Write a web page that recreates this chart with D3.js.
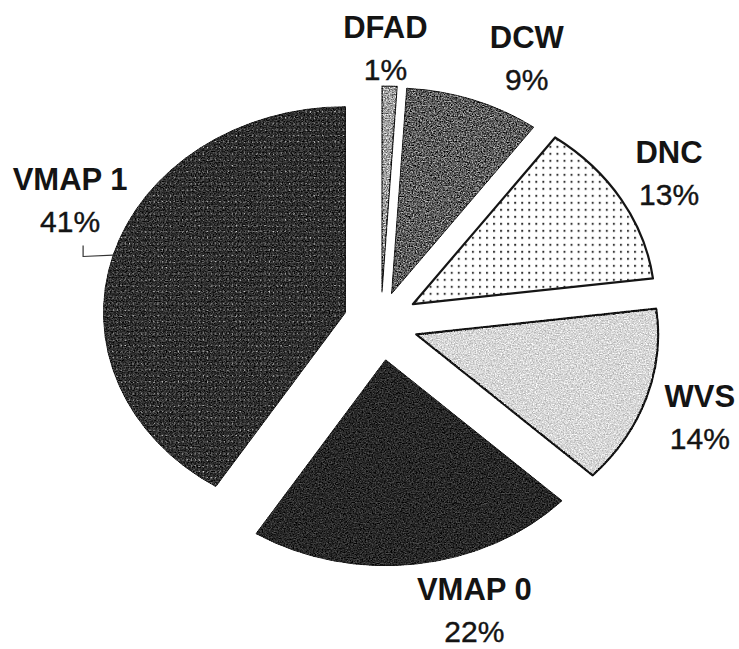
<!DOCTYPE html>
<html>
<head>
<meta charset="utf-8">
<script src="https://cdn.jsdelivr.net/npm/d3@7"></script>
<style>
html, body { margin: 0; background: #fff; }
svg { display: block; }
</style>
</head>
<body>
<svg></svg>
<script>
// data
const categories = ["DFAD", "DCW", "DNC", "WVS", "VMAP 0", "VMAP 1"]
const shares = [1, 9, 13, 14, 22, 41]
const pctLabels = ["1%", "9%", "13%", "14%", "22%", "41%"]

const width = 739, height = 649
const cx = 381, cy = 323
const rx = 242, ry = 206
// how far each slice is pulled out of the pie
const explode = {"DFAD": 31, "DCW": 31, "DNC": 37, "WVS": 37, "VMAP 0": 37, "VMAP 1": 37}
const fills = {"DFAD": "url(#pDfad)", "DCW": "url(#pDcw)", "DNC": "url(#pDnc)",
               "WVS": "url(#pWvs)", "VMAP 0": "url(#pVmap0)", "VMAP 1": "url(#pVmap1)"}
const strokes = {"DFAD": 1.2, "DCW": 1, "DNC": 2.2, "WVS": 2.2, "VMAP 0": 1, "VMAP 1": 1}
const grainy = {"DFAD": true, "DCW": true, "DNC": false, "WVS": true, "VMAP 0": true, "VMAP 1": true}
// label nudges from the default label ring
const labelNudge = {"DFAD": [-6, 10], "DCW": [34, 3], "DNC": [4, -5],
                    "WVS": [5, 6], "VMAP 0": [52, 4], "VMAP 1": [6, -43]}
const labelRx = 330, labelRy = 285

const data = categories.map((c, i) => ({name: c, value: shares[i], pct: pctLabels[i]}))

const svg = d3.select("svg")
    .attr("width", width)
    .attr("height", height)
    .style("font-family", "'Liberation Sans', Arial, sans-serif")

svg.append("rect").attr("width", width).attr("height", height).attr("fill", "#fff")

const defs = svg.append("defs")

// scanned-print grain
const grain = defs.append("filter")
    .attr("id", "grain")
    .attr("x", "-5%").attr("y", "-5%").attr("width", "110%").attr("height", "110%")
    .attr("color-interpolation-filters", "sRGB")
grain.append("feTurbulence")
    .attr("type", "fractalNoise").attr("baseFrequency", 0.8)
    .attr("numOctaves", 2).attr("seed", 4).attr("result", "noise")
grain.append("feColorMatrix")
    .attr("in", "noise").attr("type", "matrix")
    .attr("values", "0.33 0.33 0.33 0 0  0.33 0.33 0.33 0 0  0.33 0.33 0.33 0 0  0 0 0 0 1")
    .attr("result", "gray")
const ct = grain.append("feComponentTransfer").attr("in", "gray").attr("result", "contrast")
;["feFuncR", "feFuncG", "feFuncB"].forEach(f =>
    ct.append(f).attr("type", "linear").attr("slope", 3.2).attr("intercept", -1.1))
grain.append("feBlend")
    .attr("in", "contrast").attr("in2", "SourceGraphic").attr("mode", "overlay").attr("result", "mix")
grain.append("feComposite")
    .attr("in", "mix").attr("in2", "SourceGraphic").attr("operator", "in")

function solidPattern(id, color) {
    defs.append("pattern").attr("id", id)
        .attr("patternUnits", "userSpaceOnUse").attr("width", 8).attr("height", 8)
        .append("rect").attr("width", 8).attr("height", 8).attr("fill", color)
}
solidPattern("pDfad", "#a3a3a3")
solidPattern("pDcw", "#5f5f5f")
solidPattern("pWvs", "#d8d8d8")
solidPattern("pVmap0", "#292929")

const dnc = defs.append("pattern").attr("id", "pDnc")
    .attr("patternUnits", "userSpaceOnUse").attr("width", 6).attr("height", 7)
dnc.append("rect").attr("width", 6).attr("height", 7).attr("fill", "#fff")
dnc.append("rect").attr("x", 2.3).attr("y", 2.8).attr("width", 1.6).attr("height", 1.8).attr("fill", "#111")

const vm1 = defs.append("pattern").attr("id", "pVmap1")
    .attr("patternUnits", "userSpaceOnUse").attr("width", 3.5).attr("height", 6)
vm1.append("rect").attr("width", 3.5).attr("height", 6).attr("fill", "#2d2d2d")
vm1.append("rect").attr("x", 1).attr("y", 2.5).attr("width", 1.1).attr("height", 1.1).attr("fill", "#a0a0a0")

const pie = d3.pie().sort(null).value(d => d.value)
const arc = d3.arc().innerRadius(0).outerRadius(ry)
const arcs = pie(data)

const mid = d => (d.startAngle + d.endAngle) / 2
const apex = d => {
    const e = explode[d.data.name], a = mid(d)
    return [cx + e * Math.sin(a), cy - e * Math.cos(a)]
}

svg.selectAll("g.slice")
    .data(arcs)
    .join("g")
    .attr("class", "slice")
    .attr("transform", d => `translate(${apex(d)}) scale(${rx / ry}, 1)`)
    .append("path")
    .attr("d", arc)
    .attr("fill", d => fills[d.data.name])
    .attr("filter", d => grainy[d.data.name] ? "url(#grain)" : null)
    .attr("stroke", "#151515")
    .attr("stroke-width", d => strokes[d.data.name])
    .attr("stroke-linejoin", "round")
    .attr("vector-effect", "non-scaling-stroke")

const labelPos = d => {
    const a = mid(d), n = labelNudge[d.data.name]
    return [cx + labelRx * Math.sin(a) + n[0], cy - labelRy * Math.cos(a) + n[1]]
}

const labels = svg.selectAll("g.label")
    .data(arcs)
    .join("g")
    .attr("class", "label")
    .attr("transform", d => `translate(${labelPos(d)})`)
    .attr("fill", "#141414")
    .attr("text-anchor", "middle")

labels.append("text")
    .attr("y", -10)
    .attr("font-size", 31)
    .attr("font-weight", "bold")
    .text(d => d.data.name)

labels.append("text")
    .attr("y", 32)
    .attr("font-size", 30)
    .attr("stroke", "#141414")
    .attr("stroke-width", 0.4)
    .text(d => d.data.pct)

// leader line for the biggest slice
const big = arcs.find(d => d.data.name === "VMAP 1")
const [lx, ly] = labelPos(big)
const [ax, ay] = apex(big)
const edge = [ax + rx * Math.sin(mid(big)), ay - ry * Math.cos(mid(big))]
svg.append("path")
    .attr("d", d3.line()([[lx + 13, ly + 45], [lx + 13, ly + 56], edge]))
    .attr("fill", "none")
    .attr("stroke", "#333")
    .attr("stroke-width", 1.2)
</script>
</body>
</html>
